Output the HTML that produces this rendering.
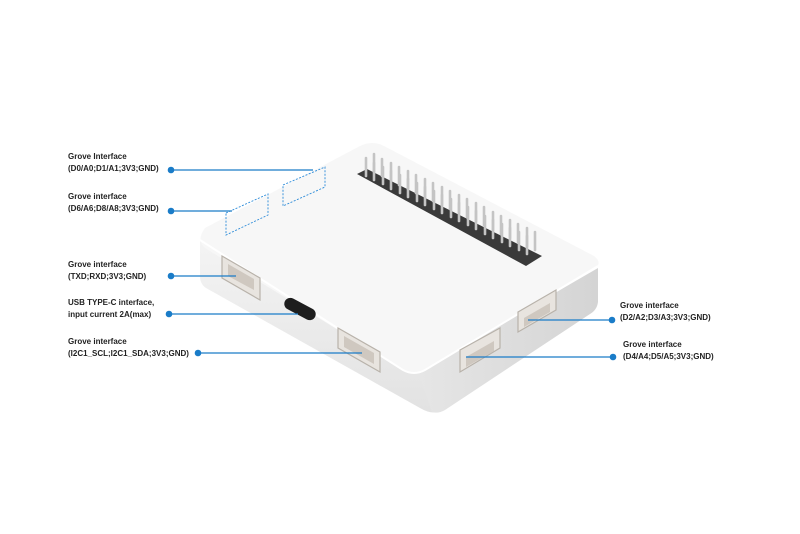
<!DOCTYPE html>
<html><head><meta charset="utf-8"><style>
html,body{margin:0;padding:0;background:#fff;}
svg{display:block}
text{font-family:"Liberation Sans",sans-serif;font-weight:bold;font-size:8px;fill:#222;}
</style></head><body>
<svg width="800" height="534" viewBox="0 0 800 534" xmlns="http://www.w3.org/2000/svg">
<defs>
<linearGradient id="lw" x1="0" y1="0" x2="0" y2="1"><stop offset="0" stop-color="#f4f4f4"/><stop offset="1" stop-color="#e2e2e2"/></linearGradient>
<linearGradient id="rw" x1="0" y1="0" x2="1" y2="0"><stop offset="0" stop-color="#e6e6e6"/><stop offset="1" stop-color="#d4d4d4"/></linearGradient>
</defs>
<path d="M200,240 L418,372 L438,412 Q430,414 420,408 L206,288 Q200,284 200,276 Z" fill="url(#lw)"/>
<path d="M418,372 L598,268 L598,302 Q597,310 590,314 L445,410 Q438,414 432,412 Z" fill="url(#rw)"/>
<path d="M205,228 L360,146 Q372,140 384,146 L594,256 Q602,262 596,268 L425,370 Q414,376 403,370 L205,248 Q196,240 205,228 Z" fill="#f7f7f7"/>
<path d="M200,240 L403,370 Q414,376 425,370 L598,266" fill="none" stroke="#fff" stroke-width="2"/>
<polygon points="357,174 367,169 542,256 526,266" fill="#3a3a3a"/>
<g stroke="#c4c4c4" stroke-width="2.6" stroke-linecap="round">
<line x1="366" y1="176" x2="366" y2="158"/><line x1="374" y1="172" x2="374" y2="154"/>
<line x1="374" y1="180" x2="374" y2="163"/><line x1="382" y1="176" x2="382" y2="159"/>
<line x1="383" y1="184" x2="383" y2="167"/><line x1="391" y1="180" x2="391" y2="163"/>
<line x1="391" y1="189" x2="391" y2="171"/><line x1="399" y1="185" x2="399" y2="167"/>
<line x1="400" y1="193" x2="400" y2="175"/><line x1="408" y1="189" x2="408" y2="171"/>
<line x1="408" y1="197" x2="408" y2="179"/><line x1="416" y1="193" x2="416" y2="175"/>
<line x1="417" y1="201" x2="417" y2="183"/><line x1="425" y1="197" x2="425" y2="179"/>
<line x1="425" y1="205" x2="425" y2="187"/><line x1="433" y1="201" x2="433" y2="183"/>
<line x1="434" y1="209" x2="434" y2="191"/><line x1="442" y1="205" x2="442" y2="187"/>
<line x1="442" y1="213" x2="442" y2="195"/><line x1="450" y1="209" x2="450" y2="191"/>
<line x1="451" y1="217" x2="451" y2="199"/><line x1="459" y1="213" x2="459" y2="195"/>
<line x1="459" y1="221" x2="459" y2="203"/><line x1="467" y1="217" x2="467" y2="199"/>
<line x1="468" y1="225" x2="468" y2="207"/><line x1="476" y1="221" x2="476" y2="203"/>
<line x1="476" y1="229" x2="476" y2="211"/><line x1="484" y1="225" x2="484" y2="207"/>
<line x1="485" y1="234" x2="485" y2="216"/><line x1="493" y1="230" x2="493" y2="212"/>
<line x1="493" y1="238" x2="493" y2="220"/><line x1="501" y1="234" x2="501" y2="216"/>
<line x1="502" y1="242" x2="502" y2="224"/><line x1="510" y1="238" x2="510" y2="220"/>
<line x1="510" y1="246" x2="510" y2="228"/><line x1="518" y1="242" x2="518" y2="224"/>
<line x1="519" y1="250" x2="519" y2="232"/><line x1="527" y1="246" x2="527" y2="228"/>
<line x1="527" y1="254" x2="527" y2="236"/><line x1="535" y1="250" x2="535" y2="232"/>
</g>
<g fill="#e8e4df" stroke="#b8b2aa" stroke-width="1.2">
<polygon points="222,256 260,278 260,300 222,278"/>
<polygon points="338,328 380,352 380,372 338,348"/>
<polygon points="518,312 556,290 556,310 518,332"/>
<polygon points="460,350 500,328 500,348 460,372"/>
</g>
<g fill="#cfc8c0">
<polygon points="228,264 254,279 254,290 228,276"/>
<polygon points="344,336 374,353 374,364 344,347"/>
<polygon points="524,318 550,303 550,312 524,327"/>
<polygon points="466,357 494,341 494,351 466,367"/>
</g>
<rect x="283" y="303" width="34" height="12" rx="6" transform="rotate(28 300 309)" fill="#1d1d1d"/>
<g fill="none" stroke="#2a8ad8" stroke-width="0.9" stroke-dasharray="2,1.5">
<polygon points="283,185 325,167 325,187 283,206"/>
<polygon points="226,213 268,194 268,215 226,235"/>
</g>
<g stroke="#1a7cc8" stroke-width="1.2" fill="none">
<line x1="171" y1="170" x2="313" y2="170"/>
<line x1="171" y1="211" x2="232" y2="211"/>
<line x1="171" y1="276" x2="236" y2="276"/>
<line x1="169" y1="314" x2="298" y2="314"/>
<line x1="198" y1="353" x2="362" y2="353"/>
<line x1="528" y1="320" x2="612" y2="320"/>
<line x1="466" y1="357" x2="613" y2="357"/>
</g>
<g fill="#1a7cc8">
<circle cx="171" cy="170" r="3.3"/><circle cx="171" cy="211" r="3.3"/>
<circle cx="171" cy="276" r="3.3"/><circle cx="169" cy="314" r="3.3"/>
<circle cx="198" cy="353" r="3.3"/><circle cx="612" cy="320" r="3.3"/>
<circle cx="613" cy="357" r="3.3"/>
</g>
<text x="68" y="159">Grove Interface</text>
<text x="68" y="171">(D0/A0;D1/A1;3V3;GND)</text>
<text x="68" y="199">Grove interface</text>
<text x="68" y="211">(D6/A6;D8/A8;3V3;GND)</text>
<text x="68" y="267">Grove interface</text>
<text x="68" y="279">(TXD;RXD;3V3;GND)</text>
<text x="68" y="305">USB TYPE-C interface,</text>
<text x="68" y="317">input current 2A(max)</text>
<text x="68" y="344">Grove interface</text>
<text x="68" y="356">(I2C1_SCL;I2C1_SDA;3V3;GND)</text>
<text x="620" y="308">Grove interface</text>
<text x="620" y="320">(D2/A2;D3/A3;3V3;GND)</text>
<text x="623" y="347">Grove interface</text>
<text x="623" y="359">(D4/A4;D5/A5;3V3;GND)</text>
</svg>
</body></html>
